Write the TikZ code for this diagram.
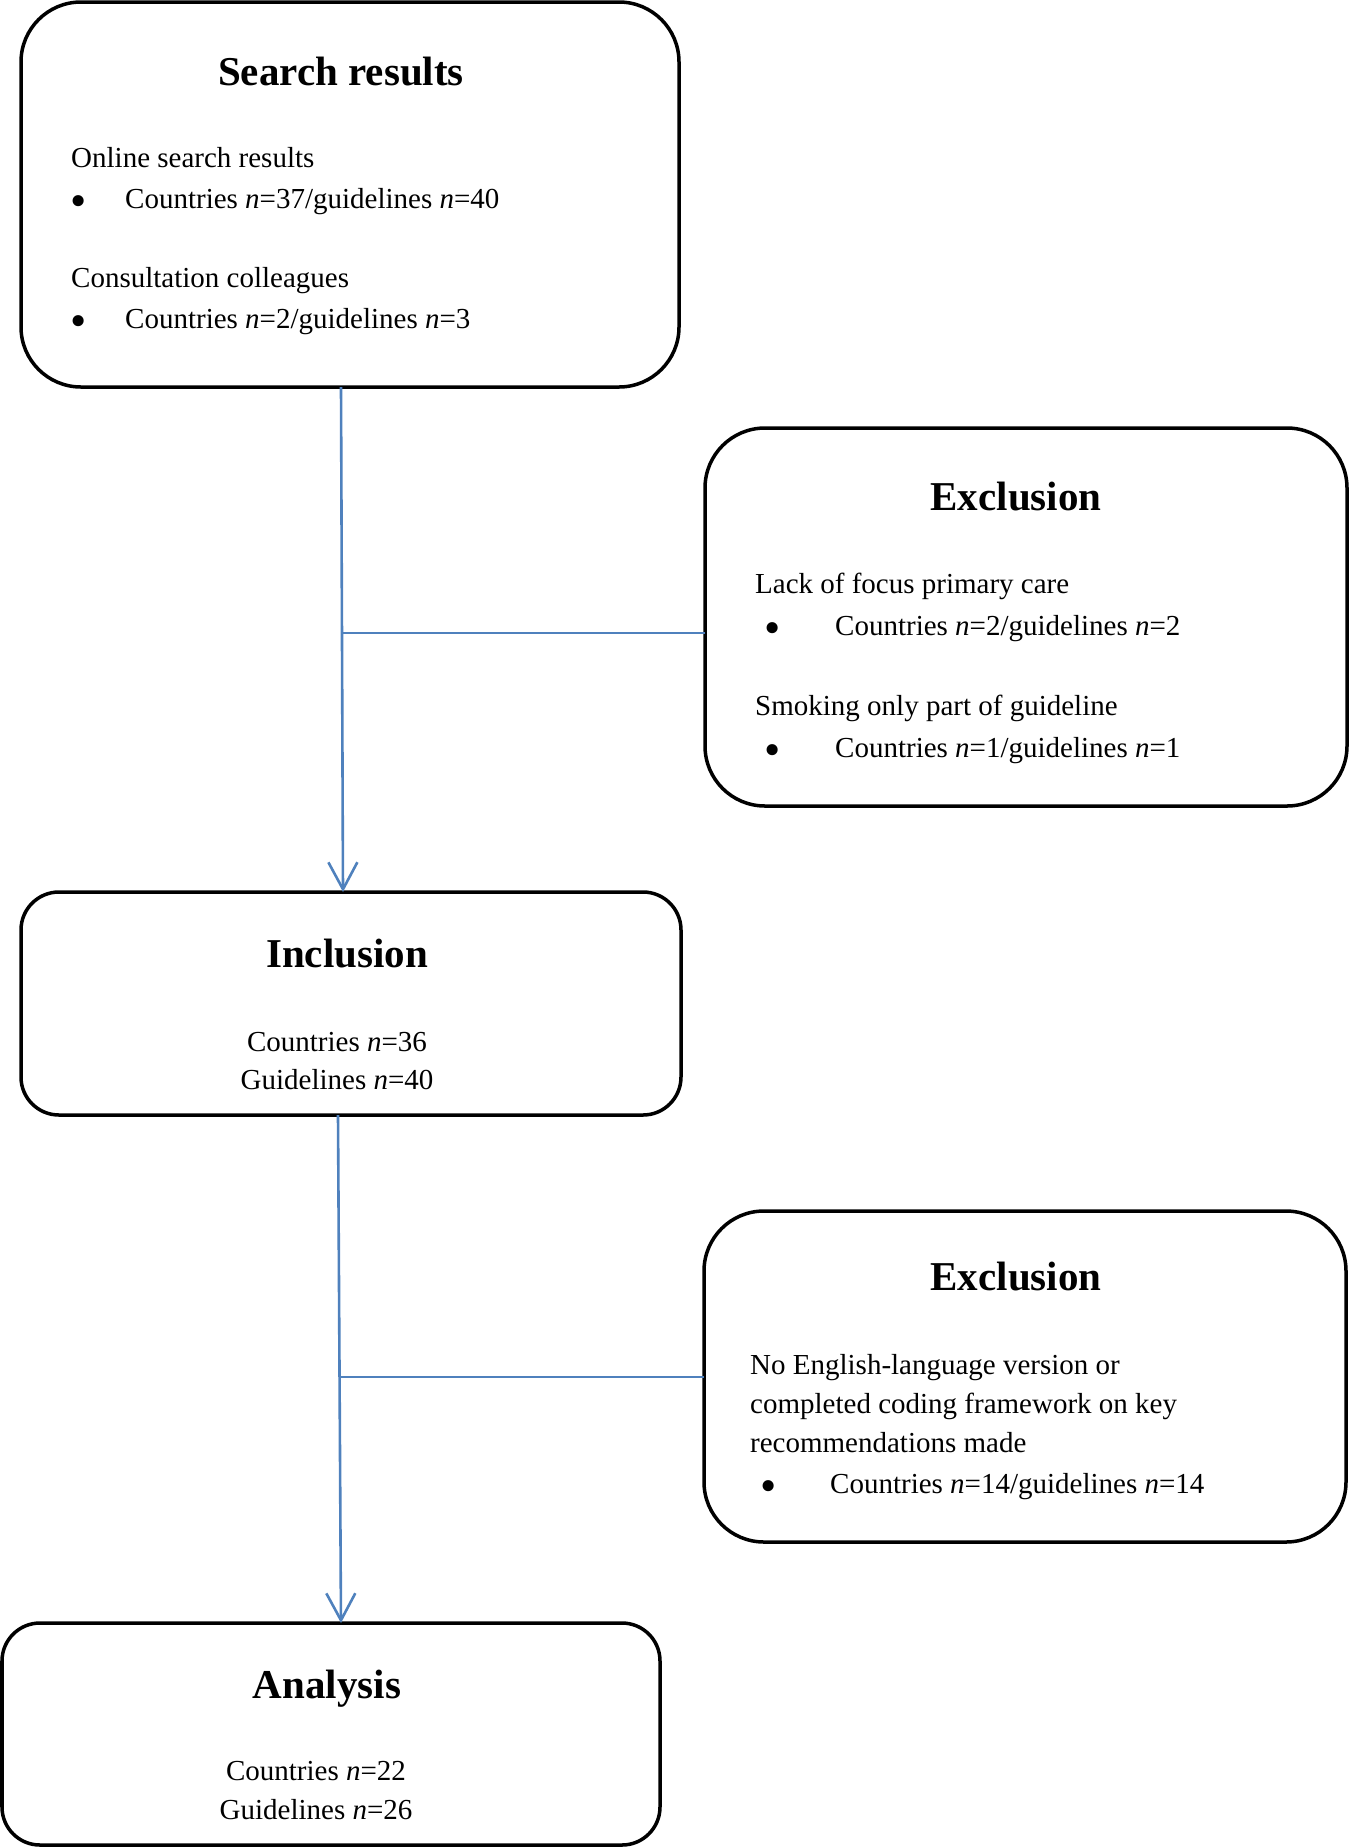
\documentclass[tikz,border=0pt]{standalone}
\usepackage{fontspec}
\setmainfont{Liberation Serif}
\usetikzlibrary{arrows.meta}
\definecolor{flowblue}{RGB}{79,129,189}
\tikzset{
  box/.style={draw=black, line width=3.5pt, rounded corners=#1, fill=none, inner sep=0pt, outer sep=0pt},
  box/.default=60pt,
  ttl/.style={font=\fontsize{41}{48}\selectfont\bfseries, anchor=base, inner sep=0pt},
  txt/.style={font=\fontsize{29}{38}\selectfont, anchor=base west, inner sep=0pt},
  ctxt/.style={font=\fontsize{29}{38}\selectfont, anchor=base, inner sep=0pt},
  bul/.style={font=\fontsize{29}{38}\selectfont, anchor=center, inner sep=0pt},
  flow/.style={draw=flowblue, line width=2.6pt},
  flowarrow/.style={flow, -{Straight Barb[length=27pt,width=29pt]}}
}
\newcommand{\mybul}{\scalebox{1.6}{\textbullet}}
\begin{document}
\begin{tikzpicture}[x=1pt,y=-1pt]
\useasboundingbox (0,0) rectangle (1350,1848);
% boxes
\node[box, minimum width=658pt, minimum height=385pt] (sr) at (350,194.5) {};
\node[box, minimum width=642pt, minimum height=378pt] (ex1) at (1026,617) {};
\node[box=38pt, minimum width=660pt, minimum height=223pt] (inc) at (351,1003.5) {};
\node[box, minimum width=642pt, minimum height=331pt] (ex2) at (1025,1376.5) {};
\node[box=38pt, minimum width=658pt, minimum height=222pt] (an) at (331,1734) {};
% search results text
\node[ttl] (t1) at (341,85) {Search results};
\node[txt] (s1) at (71,167) {Online search results};
\node[bul] (b1) at (78.5,206) {\mybul};
\node[txt] (s2) at (125,208) {Countries \textit{n}=37/guidelines \textit{n}=40};
\node[txt] (s3) at (71,287) {Consultation colleagues};
\node[bul] (b2) at (78.5,326) {\mybul};
\node[txt] (s4) at (125,328) {Countries \textit{n}=2/guidelines \textit{n}=3};
% exclusion 1
\node[ttl] (t2) at (1016,510) {Exclusion};
\node[txt] (e1) at (755,593) {Lack of focus primary care};
\node[bul] (b3) at (773,633) {\mybul};
\node[txt] (e2) at (835,635) {Countries \textit{n}=2/guidelines \textit{n}=2};
\node[txt] (e3) at (755,715) {Smoking only part of guideline};
\node[bul] (b4) at (773,755) {\mybul};
\node[txt] (e4) at (835,757) {Countries \textit{n}=1/guidelines \textit{n}=1};
% inclusion
\node[ttl] (t3) at (347,967) {Inclusion};
\node[ctxt] (i1) at (337,1051) {Countries \textit{n}=36};
\node[ctxt] (i2) at (337,1089) {Guidelines \textit{n}=40};
% exclusion 2
\node[ttl] (t4) at (1016,1290) {Exclusion};
\node[txt] (x1) at (750,1374) {No English-language version or};
\node[txt] (x2) at (750,1413) {completed coding framework on key};
\node[txt] (x3) at (750,1452) {recommendations made};
\node[bul] (b5) at (769,1491) {\mybul};
\node[txt] (x4) at (830,1493) {Countries \textit{n}=14/guidelines \textit{n}=14};
% analysis
\node[ttl] (t5) at (327,1698) {Analysis};
\node[ctxt] (a1) at (316,1780) {Countries \textit{n}=22};
\node[ctxt] (a2) at (316,1819) {Guidelines \textit{n}=26};
% connectors
\draw[flowarrow] ([xshift=-9pt]sr.south) -- ([xshift=-8pt]inc.north);
\coordinate (j1) at (343,633);
\draw[flow] (j1) -- (j1 -| ex1.west);
\draw[flowarrow] ([xshift=-13pt]inc.south) -- ([xshift=10pt]an.north);
\coordinate (j2) at (341,1377);
\draw[flow] (j2) -- (j2 -| ex2.west);
\end{tikzpicture}
\end{document}
